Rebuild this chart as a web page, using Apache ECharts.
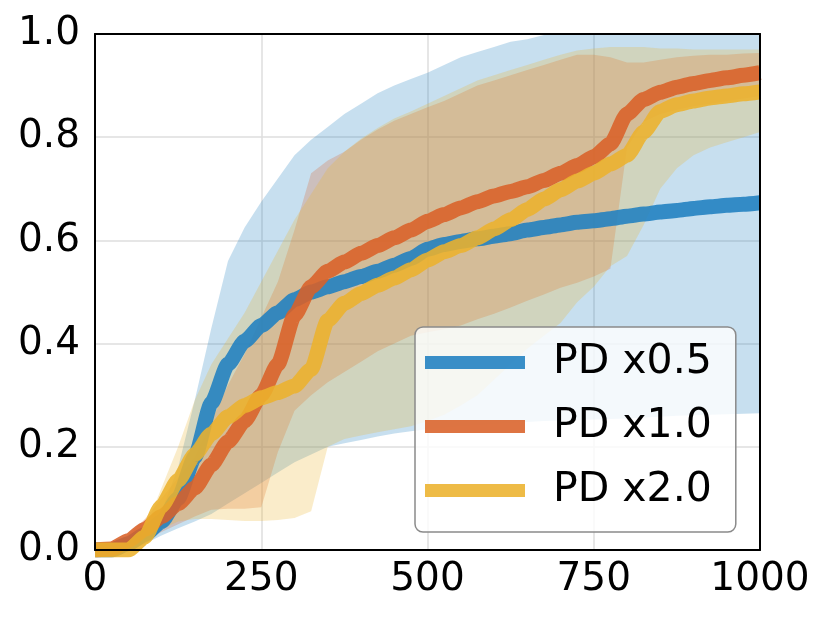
<!DOCTYPE html>
<html>
<head>
<meta charset="utf-8">
<script src="https://cdn.jsdelivr.net/npm/echarts@6/dist/echarts.min.js"></script>
<style>
html,body{margin:0;padding:0;background:#fff;}
#chart{width:830px;height:623px;}
</style>
</head>
<body>
<div id="chart"></div>
<script>
// x positions (steps)
var xs = [0,25,50,75,100,125,150,175,200,225,250,275,300,325,350,375,400,425,450,475,500,525,550,575,600,625,650,675,700,725,750,775,800,825,850,875,900,925,950,975,1000];

var seriesNames = ['PD x0.5','PD x1.0','PD x2.0'];

var blueMean  = [0,0,0.012,0.03,0.055,0.1,0.18,0.285,0.36,0.405,0.435,0.46,0.485,0.5,0.51,0.52,0.53,0.54,0.552,0.565,0.583,0.592,0.598,0.603,0.608,0.613,0.62,0.625,0.63,0.635,0.638,0.642,0.647,0.651,0.655,0.658,0.662,0.665,0.668,0.67,0.673];
var blueUpper = [0,0.002,0.02,0.04,0.075,0.16,0.29,0.43,0.56,0.625,0.675,0.72,0.765,0.795,0.82,0.845,0.865,0.885,0.9,0.913,0.925,0.94,0.955,0.965,0.975,0.985,0.99,0.998,1,1,1,1,1,1,1,1,1,1,1,1,1];
var blueLower = [0,0,0.004,0.012,0.028,0.042,0.055,0.07,0.09,0.11,0.13,0.15,0.17,0.185,0.2,0.207,0.213,0.22,0.226,0.23,0.234,0.237,0.24,0.242,0.244,0.246,0.248,0.25,0.251,0.252,0.253,0.254,0.255,0.257,0.258,0.26,0.261,0.262,0.263,0.264,0.265];

var orangeMean  = [0,0.002,0.018,0.04,0.065,0.09,0.12,0.165,0.21,0.25,0.3,0.36,0.455,0.51,0.54,0.558,0.575,0.59,0.605,0.62,0.637,0.65,0.663,0.675,0.686,0.695,0.704,0.716,0.73,0.745,0.762,0.787,0.845,0.873,0.887,0.897,0.904,0.91,0.915,0.92,0.925];
var orangeUpper = [0,0.003,0.03,0.06,0.1,0.14,0.18,0.25,0.32,0.38,0.45,0.52,0.62,0.73,0.755,0.772,0.795,0.815,0.832,0.845,0.858,0.87,0.885,0.9,0.91,0.92,0.93,0.94,0.95,0.96,0.96,0.955,0.945,0.945,0.95,0.955,0.958,0.96,0.96,0.962,0.963];
var orangeLower = [0,0,0.008,0.02,0.035,0.05,0.065,0.078,0.08,0.08,0.083,0.19,0.27,0.3,0.325,0.345,0.365,0.385,0.4,0.415,0.422,0.428,0.435,0.447,0.458,0.47,0.483,0.495,0.508,0.518,0.53,0.545,0.78,0.83,0.845,0.853,0.86,0.865,0.87,0.875,0.88];

var yellowMean  = [0,0,0,0.025,0.085,0.135,0.185,0.225,0.258,0.28,0.295,0.305,0.318,0.35,0.445,0.478,0.497,0.513,0.527,0.543,0.562,0.578,0.59,0.605,0.622,0.64,0.66,0.68,0.698,0.715,0.73,0.748,0.765,0.81,0.85,0.863,0.87,0.876,0.88,0.884,0.888];
var yellowUpper = [0,0,0.002,0.04,0.12,0.2,0.29,0.36,0.41,0.46,0.52,0.58,0.64,0.69,0.74,0.772,0.797,0.818,0.836,0.85,0.865,0.88,0.895,0.91,0.92,0.93,0.94,0.95,0.96,0.968,0.972,0.975,0.975,0.975,0.972,0.972,0.97,0.97,0.97,0.97,0.97];
var yellowLower = [0,0,0,0.01,0.04,0.055,0.06,0.06,0.058,0.056,0.056,0.058,0.062,0.075,0.2,0.215,0.222,0.228,0.234,0.24,0.25,0.262,0.28,0.3,0.33,0.36,0.39,0.415,0.44,0.48,0.51,0.55,0.57,0.63,0.7,0.74,0.765,0.78,0.79,0.8,0.81];

var xTicks = [0,250,500,750,1000];

var colors = ['#1f7fc0','#da6128','#ecb22c'];
var means = [blueMean, orangeMean, yellowMean];
var uppers = [blueUpper, orangeUpper, yellowUpper];
var lowers = [blueLower, orangeLower, yellowLower];

function diffArr(u,l){ return u.map(function(v,i){ return +(v-l[i]).toFixed(4); }); }

var series = [];
for (var k=0;k<3;k++){
  series.push({
    name: 'band_lo_'+k, type:'line', stack:'band'+k, data: lowers[k],
    symbol:'none', silent:true, lineStyle:{opacity:0, width:0}, z:1
  });
  series.push({
    name: 'band_hi_'+k, type:'line', stack:'band'+k, data: diffArr(uppers[k], lowers[k]),
    symbol:'none', silent:true, lineStyle:{opacity:0, width:0},
    areaStyle:{color:colors[k], opacity:0.25}, z:1
  });
}
for (var k=0;k<3;k++){
  series.push({
    name: seriesNames[k], type:'line', data: means[k],
    symbol:'none', showSymbol:false, smooth:0.2, smoothMonotone:'x',
    itemStyle:{color:colors[k]},
    lineStyle:{color:colors[k], width:15, opacity:0.88, cap:'butt', join:'round'},
    z:3
  });
}

function isTick(i, v){ return xTicks.indexOf(+v) >= 0; }

var fontFam = 'DejaVu Sans';
var chart = echarts.init(document.getElementById('chart'), null, {renderer:'canvas'});
chart.setOption({
  animation:false,
  backgroundColor:'#fff',
  grid:{left:95, right:70, top:34, bottom:73, containLabel:false},
  legend:{
    data: seriesNames.map(function(n,i){ return {name:n, itemStyle:{color:colors[i], opacity:0.88}}; }),
    orient:'vertical', left:415, top:327,
    padding:[15,24,21,10],
    itemWidth:100, itemHeight:13, itemGap:23,
    icon:'rect',
    backgroundColor:'rgba(255,255,255,0.8)',
    borderColor:'#8a8a8a', borderWidth:1.5, borderRadius:8,
    textStyle:{fontSize:41, fontFamily:fontFam, color:'#000', lineHeight:40, padding:[0,0,0,23]},
    selectedMode:false
  },
  xAxis:[
    {type:'category', data: xs.map(String), boundaryGap:false, position:'bottom',
     axisLine:{show:false}, axisTick:{show:false},
     axisLabel:{fontSize:39, fontFamily:fontFam, color:'#000', margin:10, interval:isTick, showMaxLabel:true},
     splitLine:{show:true, interval:isTick, lineStyle:{color:'#dedede', width:1.5}}},
    {type:'value', min:0, max:1000, position:'bottom', z:10,
     axisLine:{show:true, onZero:false, lineStyle:{color:'#000', width:2}},
     axisTick:{show:false}, axisLabel:{show:false}, splitLine:{show:false}},
    {type:'value', min:0, max:1000, position:'top', z:10,
     axisLine:{show:true, onZero:false, lineStyle:{color:'#000', width:2}},
     axisTick:{show:false}, axisLabel:{show:false}, splitLine:{show:false}}
  ],
  yAxis:[
    {type:'value', min:0, max:1, interval:0.2, position:'left',
     axisLine:{show:false}, axisTick:{show:false},
     axisLabel:{fontSize:39, fontFamily:fontFam, color:'#000', margin:15,
       formatter:function(v){ return v.toFixed(1); }},
     splitLine:{show:true, lineStyle:{color:'#dedede', width:1.5}}},
    {type:'value', min:0, max:1, position:'left', z:10,
     axisLine:{show:true, onZero:false, lineStyle:{color:'#000', width:2}},
     axisTick:{show:false}, axisLabel:{show:false}, splitLine:{show:false}},
    {type:'value', min:0, max:1, position:'right', z:10,
     axisLine:{show:true, onZero:false, lineStyle:{color:'#000', width:2}},
     axisTick:{show:false}, axisLabel:{show:false}, splitLine:{show:false}}
  ],
  series: series
});
</script>
</body>
</html>
